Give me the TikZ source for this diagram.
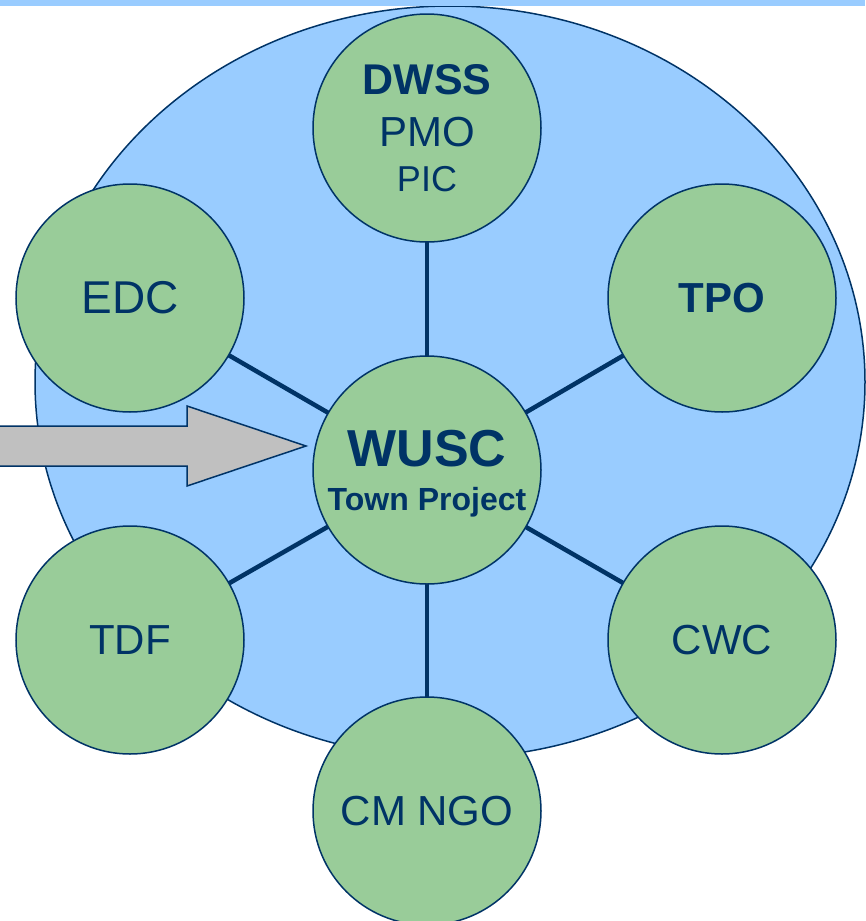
\documentclass[tikz,border=0pt]{standalone}
\usepackage{fontspec}
\setmainfont{Liberation Sans}
\usetikzlibrary{backgrounds}
\definecolor{navy}{HTML}{003366}
\definecolor{skyblue}{HTML}{99CCFF}
\definecolor{leaf}{HTML}{99CC99}
\definecolor{arrowgray}{HTML}{C0C0C0}
\begin{document}
\begin{tikzpicture}%
[x=1pt, y=-1pt,%
body/.style={circle, draw=navy, line width=1.5pt, fill=leaf, minimum size=228pt, inner sep=0pt, text=navy, align=center, font=\fontsize{42}{48}\selectfont},%
spoke/.style={draw=navy, line width=4.5pt}]

\useasboundingbox (0,0) rectangle (865,921);
\fill[skyblue] (0,0) rectangle (865,6);

\node[body] (wusc) at (427,470) {{\fontsize{52}{52}\selectfont\bfseries WUSC}\\[-4pt]%
  \raisebox{0pt}[\height][0pt]{\fontsize{32}{36}\selectfont\bfseries Town Project}};
\node[body] (dwss) at (427,128) {{\fontsize{43}{48}\selectfont\bfseries DWSS}\\[4pt]%
  PMO\\[-3pt]{\fontsize{36}{48}\selectfont PIC}};
\node[body, font=\fontsize{46}{48}\selectfont] (edc) at (130,298) {EDC};
\node[body, font=\fontsize{42}{48}\selectfont\bfseries] (tpo) at (722,298) {TPO};
\node[body] (tdf) at (130,640) {TDF};
\node[body] (cwc) at (722,640) {CWC};
\node[body] (cmngo) at (427,811) {CM NGO};

\draw[draw=navy, line width=1.5pt, fill=arrowgray] (-5,426) -- (187,426) -- (187,406)
  -- (306,446) -- (187,486) -- (187,466) -- (-5,466) -- cycle;

\begin{scope}[on background layer]
\draw[draw=navy, line width=1.5pt, fill=skyblue] (450,382) ellipse [x radius=415pt, y radius=376pt];
\foreach \n in {dwss,edc,tpo,tdf,cwc,cmngo}
  \draw[spoke] (wusc.center) -- (\n.center);
\end{scope}
\end{tikzpicture}
\end{document}
